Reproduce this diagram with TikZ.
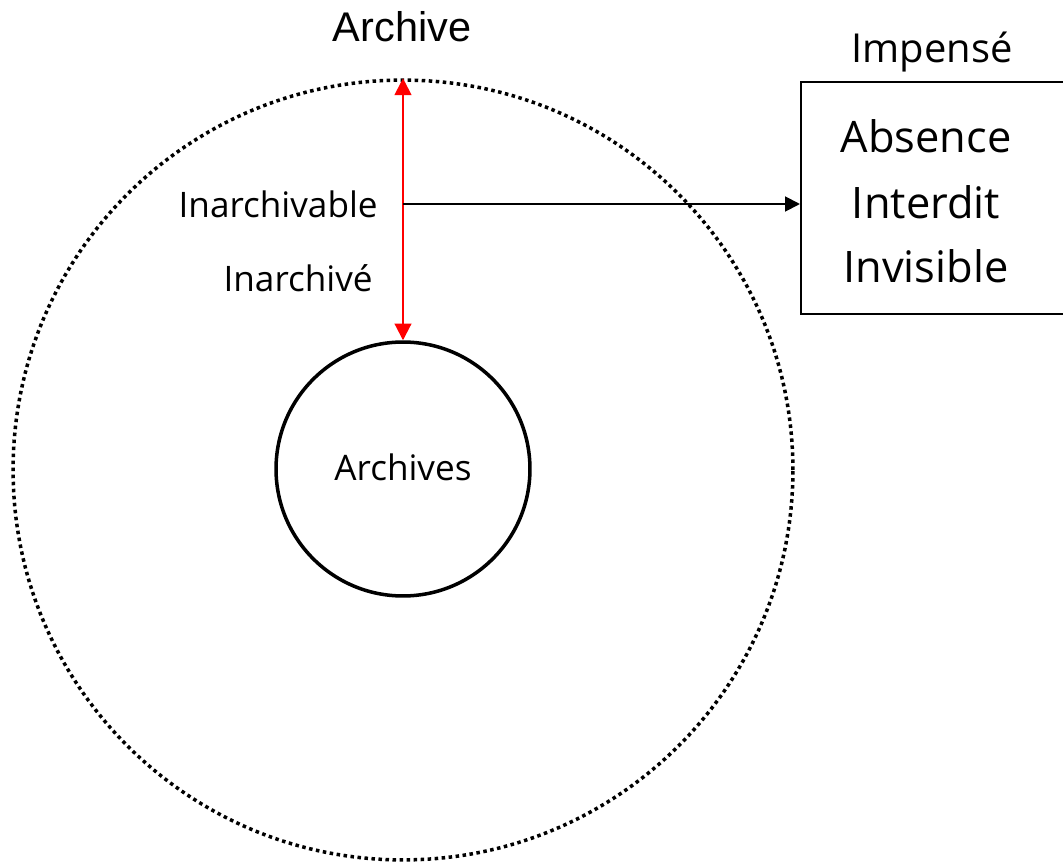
\documentclass[tikz,border=0pt]{standalone}
\usepackage{fontspec}
\setmainfont{Open Sans}
\newfontfamily\arialfont{Liberation Sans}
\usetikzlibrary{arrows.meta}
\begin{document}
\begin{tikzpicture}[x=0.02cm,y=-0.02cm,
  lbl/.style={anchor=base,inner sep=0pt,font=\fontsize{20}{24}\selectfont},
  boxtxt/.style={anchor=base,inner sep=0pt,font=\fontsize{24.7}{30}\selectfont},
  ttl/.style={anchor=base,inner sep=0pt},
  redarrow/.style={draw=red,line width=1.2pt,{Triangle[length=9.5pt,width=9.5pt]}-{Triangle[length=9.5pt,width=9.5pt]}},
  blkarrow/.style={draw=black,line width=1.1pt,-{Triangle[length=8.5pt,width=8.5pt]}}]
\useasboundingbox (0,0) rectangle (1063,865);
\clip (0,0) rectangle (1063,865);
% outer dotted circle
\node[circle,draw,line width=2pt,dash pattern=on 2pt off 2pt,minimum size=15.6cm,inner sep=0pt] (outer) at (403,470) {};
% inner circle
\node[circle,draw,line width=2pt,minimum size=5.08cm,inner sep=0pt] (inner) at (403,469) {};
\node[lbl] (archives) at (403,480) {Archives};
% box
\node[rectangle,draw,line width=1.4pt,minimum width=5.4cm,minimum height=4.64cm,anchor=north west,inner sep=0pt] (box) at (800,81) {};
\node[boxtxt] (t1) at (926,153) {Absence};
\node[boxtxt] (t2) at (926,219) {Interdit};
\node[boxtxt] (t3) at (926,283) {Invisible};
% titles
\node[ttl,font=\arialfont\fontsize{23.6}{28}\selectfont] (archive) at (402,42) {Archive};
\node[ttl,font=\fontsize{22.7}{27}\selectfont] (impense) at (932,63) {Impensé};
% labels
\node[lbl,anchor=base east] (inarchivable) at (378,218) {Inarchivable};
\node[lbl,anchor=base east] (inarchive) at (373,292) {Inarchivé};
% arrows
\draw[redarrow] (outer.north) -- (inner.north);
\coordinate (src) at (403,204);
\draw[blkarrow] (src) -- (box.west |- src);
\end{tikzpicture}
\end{document}
